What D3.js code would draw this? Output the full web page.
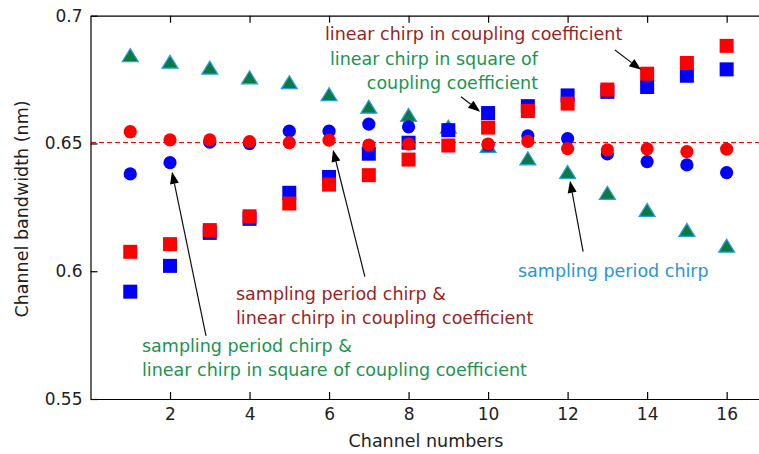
<!DOCTYPE html>
<html>
<head>
<meta charset="utf-8">
<script src="https://cdn.jsdelivr.net/npm/d3@7"></script>
<style>
  body { margin: 0; background: #fff; }
  svg { display: block; font-family: "DejaVu Sans", sans-serif; }
</style>
</head>
<body>
<div id="chart"></div>
<script>
const width = 759;
const height = 454;

// channel numbers and axis ticks
const channels = [1, 2, 3, 4, 5, 6, 7, 8, 9, 10, 11, 12, 13, 14, 15, 16];
const xTicks = [2, 4, 6, 8, 10, 12, 14, 16];
const yTicks = [0.55, 0.6, 0.65, 0.7];
const yTickLabels = ["0.55", "0.6", "0.65", "0.7"];

// channel bandwidth (nm)
const periodChirp = [0.6846, 0.682, 0.6797, 0.6759, 0.674, 0.6693, 0.6644, 0.6612,
  0.6566, 0.649, 0.6442, 0.6389, 0.6307, 0.624, 0.6162, 0.61];           // green triangles
const squareCoupling = [0.592, 0.6021, 0.615, 0.6205, 0.6307, 0.6369, 0.646, 0.6503,
  0.6552, 0.6619, 0.6646, 0.6688, 0.6702, 0.6721, 0.6765, 0.679];        // blue squares
const linearCoupling = [0.6076, 0.6106, 0.6161, 0.6215, 0.6265, 0.6339, 0.6376, 0.6437,
  0.6492, 0.6562, 0.6627, 0.6656, 0.6711, 0.6773, 0.6815, 0.6882];       // red squares
const periodSquareCoupling = [0.6381, 0.6425, 0.6505, 0.65, 0.6548, 0.6548, 0.6576, 0.6565,
  0.6552, 0.6495, 0.653, 0.6519, 0.6459, 0.6429, 0.6416, 0.6386];        // blue circles
const periodLinearCoupling = [0.6546, 0.6514, 0.6514, 0.6507, 0.6503, 0.6513, 0.6494, 0.6498,
  0.6492, 0.6498, 0.6508, 0.648, 0.6475, 0.6479, 0.6468, 0.6478];        // red circles
const reference = 0.65;

const darkRed = "#9a1f22";
const green = "#1b9450";
const lightBlue = "#2a94d6";

// scales (right edge of the axes box falls outside the picture)
const x = d3.scaleLinear().domain([0, 17]).range([90.5, 766.4]);
const y = d3.scaleLinear().domain([0.55, 0.7]).range([399, 15.7]);

const svg = d3.select("#chart")
  .append("svg")
  .attr("width", width)
  .attr("height", height);

// dashed reference line
const refY = Math.round(y(reference)) - 0.5;
svg.append("line")
  .attr("x1", x(0)).attr("x2", x(17))
  .attr("y1", refY).attr("y2", refY)
  .attr("stroke", "#ff0000")
  .attr("stroke-width", 1)
  .attr("shape-rendering", "crispEdges")
  .attr("stroke-dasharray", "5,3");

// markers, drawn in the order they overlap
const tri = d3.symbol().type({
  draw(ctx) { ctx.moveTo(0, -6.5); ctx.lineTo(8, 6.5); ctx.lineTo(-8, 6.5); ctx.closePath(); }
});

svg.append("g").selectAll("path")
  .data(periodChirp)
  .join("path")
  .attr("d", tri)
  .attr("transform", (d, i) => `translate(${x(channels[i])},${y(d)})`)
  .attr("fill", "#0a7a40")
  .attr("stroke", "#2a9ee0")
  .attr("stroke-width", 1.2);

function squares(values, color) {
  svg.append("g").selectAll("rect")
    .data(values)
    .join("rect")
    .attr("x", (d, i) => x(channels[i]) - 7)
    .attr("y", d => y(d) - 7)
    .attr("width", 14)
    .attr("height", 14)
    .attr("fill", color);
}
squares(squareCoupling, "#0000ff");
squares(linearCoupling, "#ff0000");

function circles(values, color) {
  svg.append("g").selectAll("circle")
    .data(values)
    .join("circle")
    .attr("cx", (d, i) => x(channels[i]))
    .attr("cy", d => y(d))
    .attr("r", 6.6)
    .attr("fill", color);
}
circles(periodSquareCoupling, "#0000ff");
circles(periodLinearCoupling, "#ff0000");

// axes with inward ticks
const axisStyle = g => {
  g.select(".domain").attr("stroke", "#000").attr("stroke-width", 1.2);
  g.selectAll(".tick line").attr("stroke", "#000").attr("stroke-width", 1.2);
  g.selectAll(".tick text").attr("fill", "#222").style("font-size", "17px")
    .style("font-family", "'DejaVu Sans', sans-serif");
};

svg.append("g")
  .attr("transform", `translate(0,${y(0.55)})`)
  .call(d3.axisBottom(x).tickValues(xTicks).tickSize(-7).tickSizeOuter(0).tickPadding(9))
  .call(axisStyle);

svg.append("g")
  .attr("transform", `translate(0,${y(0.7)})`)
  .call(d3.axisTop(x).tickValues(xTicks).tickSize(-7).tickSizeOuter(0).tickFormat(""))
  .call(axisStyle);

svg.append("g")
  .attr("transform", `translate(${x(0)},0)`)
  .call(d3.axisLeft(y).tickValues(yTicks).tickFormat((d, i) => yTickLabels[i])
    .tickSize(-7).tickSizeOuter(0).tickPadding(8))
  .call(axisStyle);

// axis titles
svg.append("text")
  .attr("x", 426).attr("y", 447)
  .attr("text-anchor", "middle")
  .attr("fill", "#222")
  .style("font-size", "17.5px")
  .text("Channel numbers");

svg.append("text")
  .attr("transform", "rotate(-90)")
  .attr("x", -209).attr("y", 28)
  .attr("text-anchor", "middle")
  .attr("fill", "#222")
  .style("font-size", "17.5px")
  .text("Channel bandwidth (nm)");

// annotation arrows, tail -> head in data units
const arrows = [
  {from: [13.19, 0.6866], to: [13.85, 0.6788]},
  {from: [9.32, 0.6683], to: [9.80, 0.6624]},
  {from: [6.90, 0.5979], to: [6.10, 0.6475]},
  {from: [2.905, 0.5747], to: [2.05, 0.6389]},
  {from: [12.39, 0.6077], to: [12.06, 0.6354]}
];

arrows.forEach(a => {
  const x1 = x(a.from[0]), y1 = y(a.from[1]);
  const x2 = x(a.to[0]), y2 = y(a.to[1]);
  const ang = Math.atan2(y2 - y1, x2 - x1);
  const len = 12, half = 4.5;
  const bx = x2 - len * Math.cos(ang), by = y2 - len * Math.sin(ang);
  svg.append("line")
    .attr("x1", x1).attr("y1", y1).attr("x2", bx).attr("y2", by)
    .attr("stroke", "#111").attr("stroke-width", 1.2);
  svg.append("path")
    .attr("d", `M${x2},${y2}L${bx + half * Math.sin(ang)},${by - half * Math.cos(ang)}` +
      `L${bx - half * Math.sin(ang)},${by + half * Math.cos(ang)}Z`)
    .attr("fill", "#000");
});

// annotation texts
const notes = [
  {lines: ["linear chirp in coupling coefficient"], color: darkRed, x: 325, y: 40, anchor: "start"},
  {lines: ["linear chirp in square of", "coupling coefficient"], color: green, x: 538, y: 65, anchor: "end"},
  {lines: ["sampling period chirp"], color: lightBlue, x: 518, y: 277, anchor: "start"},
  {lines: ["sampling period chirp &", "linear chirp in coupling coefficient"], color: darkRed, x: 236, y: 300, anchor: "start"},
  {lines: ["sampling period chirp &", "linear chirp in square of coupling coefficient"], color: green, x: 142, y: 352, anchor: "start"}
];

notes.forEach(n => {
  const t = svg.append("text")
    .attr("text-anchor", n.anchor)
    .attr("fill", n.color)
    .style("font-size", "17.5px");
  n.lines.forEach((line, i) => {
    t.append("tspan").attr("x", n.x).attr("y", n.y + i * 24).text(line);
  });
});
</script>
</body>
</html>
